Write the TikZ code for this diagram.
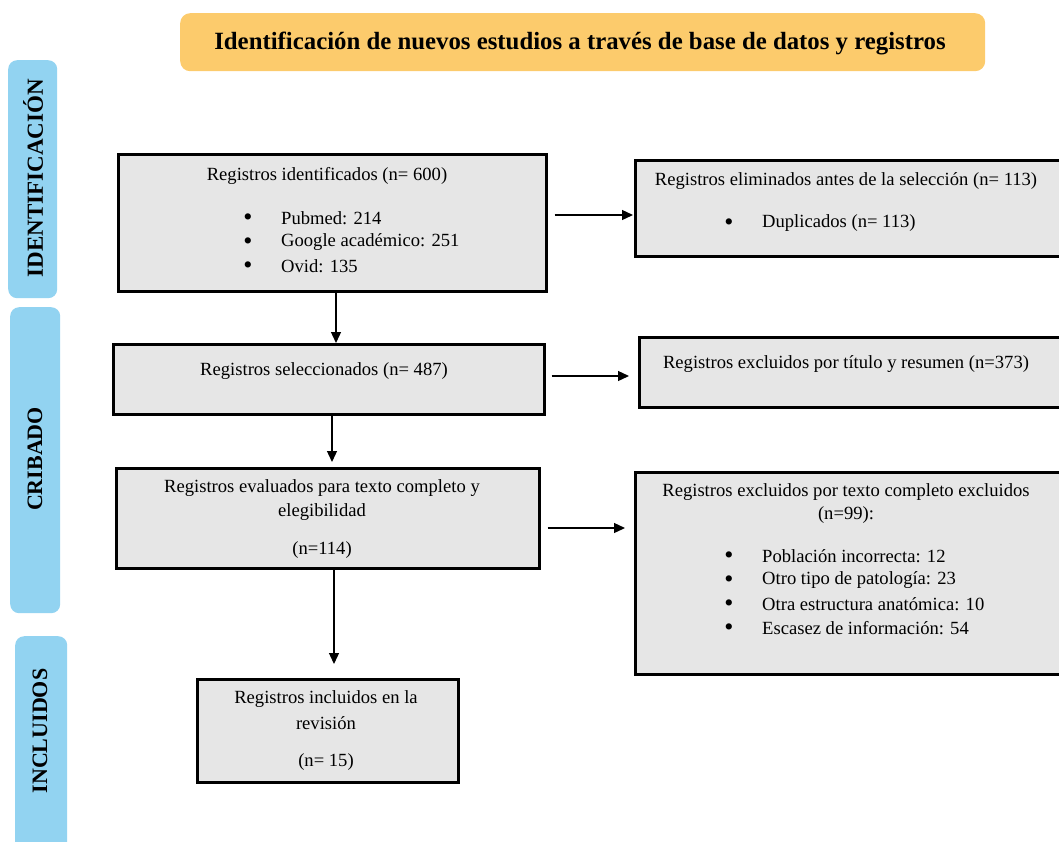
\documentclass[tikz,border=0pt]{standalone}
\usepackage{fontspec}
\setmainfont{Liberation Serif}
\usetikzlibrary{arrows.meta}
\definecolor{boxgray}{HTML}{E6E6E6}
\definecolor{titleor}{HTML}{FCCB6C}
\definecolor{sideblue}{HTML}{92D3F1}
\begin{document}
\begin{tikzpicture}[x=1pt,y=-1pt,
  box/.style={draw=black,line width=2.6pt,fill=boxgray,inner sep=0pt,anchor=north west},
  arr/.style={line width=1.3pt,-{Triangle[length=11pt,width=10pt]}},
  txt/.style={inner sep=0pt,font=\fontsize{18.6}{21}\selectfont},
  bul/.style={inner sep=0pt,font=\fontsize{26}{26}\selectfont},
  lst/.style={inner sep=0pt,anchor=west,font=\fontsize{18.6}{21}\selectfont},
  side/.style={fill=sideblue,rounded corners=9pt,inner sep=0pt,anchor=north west},
  sidetxt/.style={font=\fontsize{22}{24}\selectfont\bfseries,rotate=90,inner sep=0pt}]
\useasboundingbox (0,0) rectangle (1059,841);
\clip (0,0) rectangle (1059,841);
% title
\node[fill=titleor,rounded corners=10pt,anchor=north west,minimum width=805pt,minimum height=58pt,inner sep=0pt] (title) at (180,13) {};
\node[inner sep=0pt,font=\fontsize{24.8}{26}\selectfont\bfseries] (titletxt) at (580,44) {Identificación de nuevos estudios a través de base de datos y registros};
% side labels
\node[side,minimum width=49pt,minimum height=238pt] (s1) at (8,60) {};
\node[sidetxt,font=\fontsize{23}{25}\selectfont\bfseries] (s1t) at (33,178) {IDENTIFICACIÓN};
\node[side,minimum width=50pt,minimum height=306pt] (s2) at (10,307) {};
\node[sidetxt] (s2t) at (35,459) {CRIBADO};
\node[side,minimum width=52pt,minimum height=230pt] (s3) at (15,636) {};
\node[sidetxt] (s3t) at (40,731) {INCLUIDOS};
% boxes
\node[box,minimum width=428pt,minimum height=137pt] (b1) at (117,153) {};
\node[box,minimum width=427pt,minimum height=96pt] (b2) at (634,159) {};
\node[box,minimum width=431pt,minimum height=70pt] (b3) at (112,343) {};
\node[box,minimum width=423pt,minimum height=70pt] (b4) at (638,336) {};
\node[box,minimum width=423pt,minimum height=100pt] (b5) at (115,467) {};
\node[box,minimum width=427pt,minimum height=202pt] (b6) at (634,471) {};
\node[box,minimum width=261pt,minimum height=103pt] (b7) at (196,678) {};
% box 1 text
\node[txt] (t1) at (327,176) {Registros identificados (n= 600)};
\node[bul] (t1b1) at (248,220) {•};
\node[lst] (t1l1) at (281,218) {Pubmed: 214};
\node[bul] (t1b2) at (248,244) {•};
\node[lst] (t1l2) at (281,242) {Google académico: 251};
\node[bul] (t1b3) at (248,268) {•};
\node[lst] (t1l3) at (281,266) {Ovid: 135};
% box 2 text
\node[txt] (t2) at (846,181) {Registros eliminados antes de la selección (n= 113)};
\node[bul] (t2b1) at (729,225) {•};
\node[lst] (t2l1) at (762,223) {Duplicados (n= 113)};
% box 3 text
\node[txt] (t3) at (324,371) {Registros seleccionados (n= 487)};
% box 4 text
\node[txt] (t4) at (846,364) {Registros excluidos por título y resumen (n=373)};
% box 5 text
\node[txt] (t5a) at (322,488) {Registros evaluados para texto completo y};
\node[txt] (t5b) at (322,512) {elegibilidad};
\node[txt] (t5c) at (322,550) {(n=114)};
% box 6 text
\node[txt] (t6a) at (846,492) {Registros excluidos por texto completo excluidos};
\node[txt] (t6b) at (846,515) {(n=99):};
\node[bul] (t6b1) at (729,558) {•};
\node[lst] (t6l1) at (762,556) {Población incorrecta: 12};
\node[bul] (t6b2) at (729,582) {•};
\node[lst] (t6l2) at (762,580) {Otro tipo de patología: 23};
\node[bul] (t6b3) at (729,606) {•};
\node[lst] (t6l3) at (762,604) {Otra estructura anatómica: 10};
\node[bul] (t6b4) at (729,630) {•};
\node[lst] (t6l4) at (762,628) {Escasez de información: 54};
% box 7 text
\node[txt] (t7a) at (326,699) {Registros incluidos en la};
\node[txt] (t7b) at (326,723) {revisión};
\node[txt] (t7c) at (326,762) {(n= 15)};
% arrows
\draw[arr,shorten <=7pt,shorten >=1pt] (b1.east |- 0,215) -- (b2.west |- 0,215);
\draw[arr,shorten <=6pt,shorten >=9pt] (b3.east |- 0,376) -- (b4.west |- 0,376);
\draw[arr,shorten <=7pt,shorten >=9pt] (b5.east |- 0,528) -- (b6.west |- 0,528);
\draw[arr] (336,0 |- b1.south) -- (336,0 |- b3.north);
\draw[arr,shorten >=5pt] (332,0 |- b3.south) -- (332,0 |- b5.north);
\draw[arr,shorten >=14pt] (334,0 |- b5.south) -- (334,0 |- b7.north);
\end{tikzpicture}
\end{document}
